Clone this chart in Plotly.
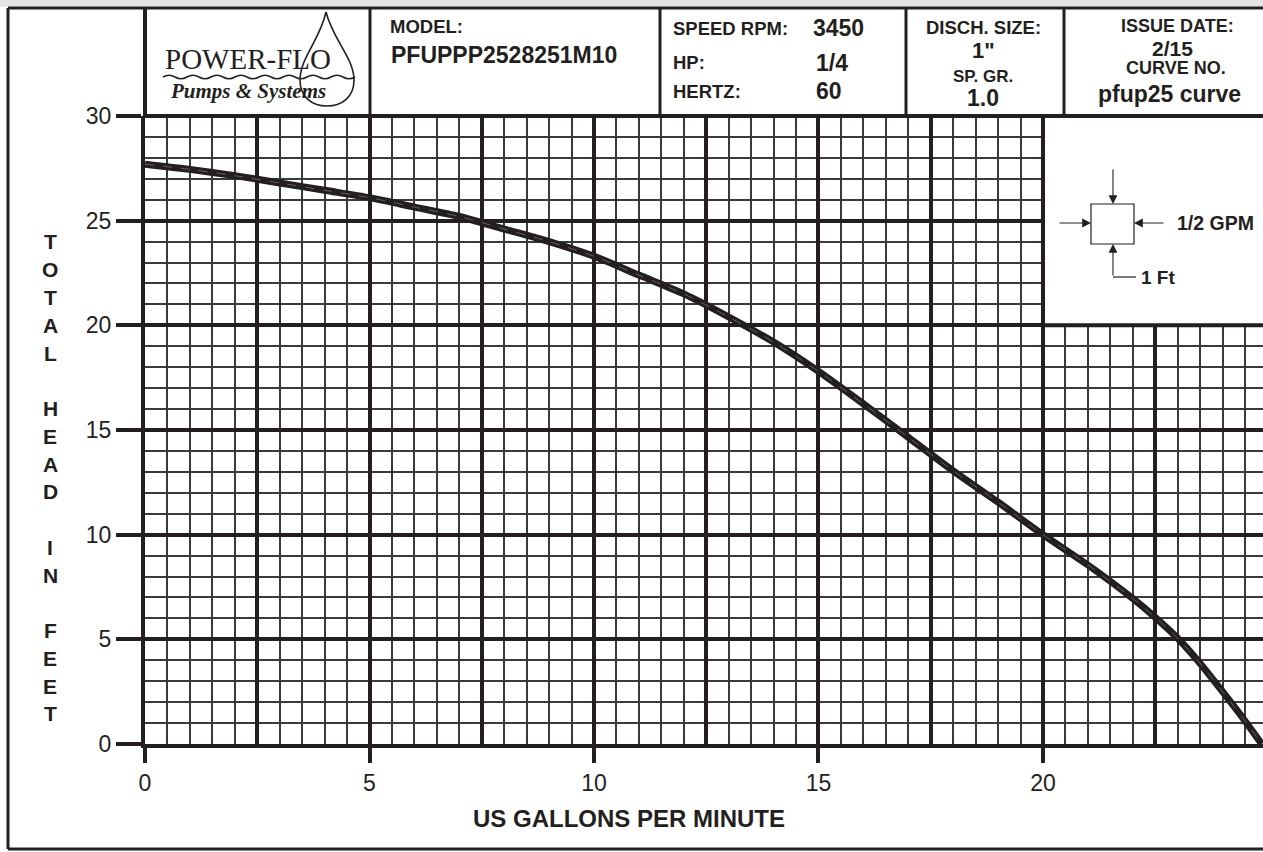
import plotly.graph_objects as go

# ---------------- data ----------------
gpm = [0, 1, 2, 3, 4, 5, 6, 7, 8, 9, 10, 11, 12, 13, 14, 15, 16, 17, 18, 19,
       20, 21, 22, 22.5, 23, 23.5, 24, 24.5, 24.87]
head_ft = [27.7, 27.45, 27.15, 26.8, 26.45, 26.1, 25.65, 25.2, 24.6, 24.0,
           23.3, 22.4, 21.5, 20.4, 19.2, 17.8, 16.25, 14.65, 13.05, 11.55,
           10.0, 8.55, 6.95, 6.05, 5.05, 3.85, 2.5, 1.1, 0.0]
x_tick_vals = [0, 5, 10, 15, 20]
y_tick_vals = [0, 5, 10, 15, 20, 25, 30]
x_title = "US GALLONS PER MINUTE"
y_title = "TOTAL HEAD IN FEET"

header_cells = [
    ("MODEL:", 388, 26.5, 18.5, "left"),
    ("PFUPPP2528251M10", 389, 55, 23, "left"),
    ("SPEED RPM:", 671, 28, 18.5, "left"),
    ("3450", 811, 28, 23, "left"),
    ("HP:", 671, 63, 18.5, "left"),
    ("1/4", 814, 62.5, 23, "left"),
    ("HERTZ:", 671, 91.5, 18.5, "left"),
    ("60", 814, 90.5, 23, "left"),
    ("DISCH. SIZE:", 983, 27.5, 18.5, "center"),
    ("1\"", 983, 51, 22, "center"),
    ("SP. GR.", 983, 76, 17, "center"),
    ("1.0", 983, 98, 23, "center"),
    ("ISSUE DATE:", 1177, 25.5, 18, "center"),
    ("2/15", 1172, 48, 21, "center"),
    ("CURVE NO.", 1176, 68.5, 18, "center"),
    ("pfup25 curve", 1169, 94, 23, "center"),
]

# ---------------- geometry helpers ----------------
W, H = 1263, 852
L, R, T, B = 145, 1263, 116, 744
INK = "#231f20"
FONT = "Liberation Sans, Arial, sans-serif"


def px(x):
    return (x - L) / (R - L)


def py(y):
    return (B - y) / (B - T)


fig = go.Figure()

fig.add_trace(go.Scatter(
    x=gpm, y=head_ft, mode="lines",
    line=dict(color=INK, width=7, shape="spline", smoothing=0.8),
    showlegend=False, hoverinfo="skip"))
fig.add_trace(go.Scatter(
    x=gpm, y=head_ft, mode="lines",
    line=dict(color="rgba(200,200,200,0.55)", width=0.7, shape="spline",
              smoothing=0.8, dash="dash"),
    showlegend=False, hoverinfo="skip"))
# dummy trace for the labelled x axis
fig.add_trace(go.Scatter(x=[None], y=[None], xaxis="x2", showlegend=False,
                         hoverinfo="skip"))

shapes = []


def line_px(x0, y0, x1, y1, w=3, color=INK):
    shapes.append(dict(type="line", xref="paper", yref="paper",
                       x0=px(x0), y0=py(y0), x1=px(x1), y1=py(y1),
                       line=dict(color=color, width=w), layer="above"))


# white box (legend area) covering grid in upper right
shapes.append(dict(type="rect", xref="x", yref="y", x0=20, x1=26, y0=20, y1=30,
                   fillcolor="white", line=dict(color=INK, width=4),
                   layer="between"))

# light grey strip at top of scan
shapes.append(dict(type="rect", xref="paper", yref="paper",
                   x0=px(0), x1=px(W), y0=py(0), y1=py(6.5),
                   fillcolor="#e4e4e4", line=dict(width=0), layer="below"))

# outer frame
line_px(8, 8, 8, 849, 3)
line_px(8, 8, W, 8, 3)
line_px(8, 849, W, 849, 3)
# header cells
line_px(145, 8, 145, 116, 4)
line_px(145, 116, W, 116, 4)
for xd in [370, 660, 906, 1064]:
    line_px(xd, 8, xd, 116, 3)


def P(x, y):
    return f"{px(x):.5f},{py(y):.5f}"


# logo drop
drop = (f"M {P(326,12)} C {P(333,40)} {P(354,58)} {P(354,80)} "
        f"C {P(354,97)} {P(342,106)} {P(327,106)} "
        f"C {P(312,106)} {P(300,97)} {P(300,80)} "
        f"C {P(300,58)} {P(320,40)} {P(326,12)} Z")
shapes.append(dict(type="path", xref="paper", yref="paper", path=drop,
                   line=dict(color=INK, width=1.6), layer="above"))
# wavy line under logo text
wave = f"M {P(163,77)}"
xw = 163
while xw < 333:
    wave += f" Q {P(xw+6,73.5)} {P(xw+12,77)} Q {P(xw+18,80.5)} {P(xw+24,77)}"
    xw += 24
shapes.append(dict(type="path", xref="paper", yref="paper", path=wave,
                   line=dict(color=INK, width=1.5), layer="above"))

# legend symbol
shapes.append(dict(type="rect", xref="paper", yref="paper",
                   x0=px(1091), x1=px(1134), y0=py(244), y1=py(204),
                   line=dict(color=INK, width=1.2), layer="above"))
line_px(1113, 277, 1136, 277, 1.2)

annotations = []
for text, x, y, size, anchor in header_cells:
    annotations.append(dict(text=f"<b>{text}</b>", x=px(x), y=py(y),
                            xref="paper", yref="paper", xanchor=anchor,
                            yanchor="middle", showarrow=False,
                            font=dict(family=FONT, size=size, color=INK)))

annotations.append(dict(text="POWER-FLO", x=px(248), y=py(59), xref="paper",
                        yref="paper", xanchor="center", yanchor="middle",
                        showarrow=False,
                        font=dict(family="Liberation Serif, serif", size=29,
                                  color=INK)))
annotations.append(dict(text="<b><i>Pumps &amp; Systems</i></b>", x=px(248),
                        y=py(91), xref="paper", yref="paper", xanchor="center",
                        yanchor="middle", showarrow=False,
                        font=dict(family="Liberation Serif, serif", size=21,
                                  color=INK)))

# x title
annotations.append(dict(text=f"<b>{x_title}</b>", x=px(629), y=py(818),
                        xref="paper", yref="paper", xanchor="center",
                        yanchor="middle", showarrow=False,
                        font=dict(family=FONT, size=24, color=INK)))
# y title stacked letters
for i, ch in enumerate(y_title):
    if ch == " ":
        continue
    annotations.append(dict(text=f"<b>{ch}</b>", x=px(50), y=py(242 + i * 27.76),
                            xref="paper", yref="paper", xanchor="center",
                            yanchor="middle", showarrow=False,
                            font=dict(family=FONT, size=21, color=INK)))

# legend arrows
for hx, hy, ax, ay in [(1113, 204, 0, -36), (1091, 223, -33, 0),
                       (1134, 223, 31, 0), (1113, 244, 0, 33)]:
    annotations.append(dict(text="", x=px(hx), y=py(hy), xref="paper",
                            yref="paper", ax=ax, ay=ay, showarrow=True,
                            arrowhead=2, arrowsize=1.6, arrowwidth=1.1,
                            arrowcolor=INK, standoff=0))
annotations.append(dict(text="<b>1/2 GPM</b>", x=px(1175), y=py(223),
                        xref="paper", yref="paper", xanchor="left",
                        yanchor="middle", showarrow=False,
                        font=dict(family=FONT, size=19.5, color=INK)))
annotations.append(dict(text="<b>1 Ft</b>", x=px(1139), y=py(277),
                        xref="paper", yref="paper", xanchor="left",
                        yanchor="middle", showarrow=False,
                        font=dict(family=FONT, size=19, color=INK)))

fig.update_layout(
    width=W, height=H, autosize=False,
    margin=dict(l=L, r=W - R, t=T, b=H - B, pad=0),
    paper_bgcolor="white", plot_bgcolor="white",
    showlegend=False,
    xaxis=dict(range=[0, 24.9], dtick=2.5, tick0=0, showgrid=True,
               gridcolor=INK, gridwidth=4, zeroline=False,
               showticklabels=False, ticks="", showline=True,
               linecolor=INK, linewidth=4,
               minor=dict(dtick=0.5, tick0=0, showgrid=True,
                          gridcolor="#3a3a3a", gridwidth=1.8)),
    xaxis2=dict(range=[0, 24.9], overlaying="x", anchor="y", side="bottom",
                tickvals=x_tick_vals, ticks="outside", ticklen=18,
                tickwidth=4, tickcolor=INK, showgrid=False, zeroline=False,
                showline=False,
                tickfont=dict(family=FONT, size=23, color=INK)),
    yaxis=dict(range=[0, 30], tickvals=y_tick_vals, showgrid=True,
               gridcolor=INK, gridwidth=4, zeroline=False,
               ticks="outside", ticklen=25, tickwidth=4, tickcolor=INK,
               showline=True, linecolor=INK, linewidth=4,
               tickfont=dict(family=FONT, size=23, color=INK),
               minor=dict(dtick=1, tick0=0, showgrid=True,
                          gridcolor="#3a3a3a", gridwidth=1.8)),
    shapes=shapes,
    annotations=annotations,
)

fig.write_html(
    "out.html",
    config={"displayModeBar": False},
    post_script="document.body.style.margin='0px';"
                "document.documentElement.style.overflow='hidden';")
